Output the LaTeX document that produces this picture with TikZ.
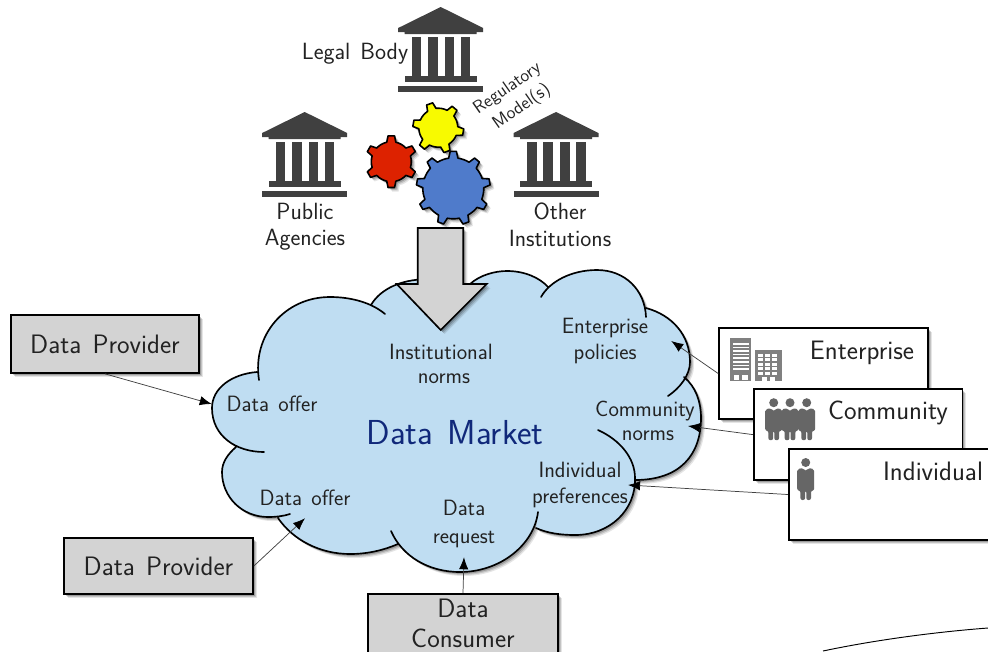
\documentclass[tikz,border=0pt]{standalone}
\usetikzlibrary{shadows,arrows.meta,calc}
\definecolor{cloudfill}{HTML}{BFDDF2}
\definecolor{boxgray}{HTML}{D3D3D3}
\definecolor{bankgray}{HTML}{404040}
\definecolor{icongray}{HTML}{666666}
\definecolor{bldgray}{HTML}{808080}
\definecolor{gearred}{HTML}{DD2200}
\definecolor{gearyellow}{HTML}{F8FA00}
\definecolor{gearblue}{HTML}{4F7BCB}
\definecolor{marketblue}{HTML}{10287A}
\definecolor{inktext}{HTML}{222222}
\newcommand{\lab}[1]{\sffamily\fontsize{#1}{19.5}\selectfont\spaceskip=.42em\relax}
\tikzset{
  softshadow/.style={
    general shadow={shadow xshift=3pt,shadow yshift=-3pt,fill=black,opacity=.10},
    general shadow={shadow xshift=2.2pt,shadow yshift=-2.2pt,fill=black,opacity=.15},
    general shadow={shadow xshift=1.4pt,shadow yshift=-1.4pt,fill=black,opacity=.2}},
  txt/.style={font=\lab{16.6},text=inktext,align=center,inner sep=0pt},
  bigtxt/.style={font=\lab{17.6},text=inktext,align=center,inner sep=0pt},
  boxtxt/.style={font=\lab{20},text=inktext,align=center,inner sep=0pt},
  graybox/.style={draw=black,line width=1.25pt,fill=boxgray,softshadow,boxtxt},
  whitebox/.style={draw=black,line width=1.25pt,fill=white,softshadow,inner sep=0pt},
  conn/.style={draw=black!75,line width=.55pt,-{Latex[length=9pt,width=7pt,black]}},
  gearline/.style={draw=black,line width=1.2pt,line join=round,softshadow},
  cloudline/.style={draw=black,line width=1.25pt,line cap=round}
}
% x y teeth outer inner rotation colour
\newcommand{\gearshape}[7]{%
  \pgfmathsetmacro{\gstep}{360/#3}%
  \fill[#7,gearline] ($(#1,#2)+(#6-.22*\gstep:#5)$)
    \foreach \gi in {1,...,#3}{
      -- ($(#1,#2)+(#6+\gi*\gstep-\gstep-.12*\gstep:#4)$)
      -- ($(#1,#2)+(#6+\gi*\gstep-\gstep+.12*\gstep:#4)$)
      -- ($(#1,#2)+(#6+\gi*\gstep-\gstep+.22*\gstep:#5)$)
      -- ($(#1,#2)+(#6+\gi*\gstep-\gstep+.36*\gstep:#5)$)
      -- ($(#1,#2)+(#6+\gi*\gstep-\gstep+.5*\gstep:#5)$)
      -- ($(#1,#2)+(#6+\gi*\gstep-\gstep+.64*\gstep:#5)$)
      -- ($(#1,#2)+(#6+\gi*\gstep-\gstep+.78*\gstep:#5)$)
    } -- cycle;}
% apex x, apex y
\newcommand{\bank}[2]{%
  \begin{scope}[shift={(#1,#2)},fill=bankgray]
    \fill (0,0) -- (42.5,21) -- (42.5,25) -- (36,25) -- (36,27) -- (-36,27) -- (-36,25) -- (-42.5,25) -- (-42.5,21) -- cycle;
    \foreach \cx in {-29,-12.7,4,20}{\fill (\cx,29.7) rectangle (\cx+9.7,69);}
    \fill (-36,69) rectangle (36,75);
    \fill (-42.5,79) rectangle (42.5,85);
  \end{scope}}
% head centre x, y
\newcommand{\person}[2]{%
  \begin{scope}[shift={(#1,#2)},fill=icongray]
    \fill (0,0) circle (4.5);
    \fill[rounded corners=1.5pt] (-8.5,6.5) -- (-2,5.5) -- (0,9) -- (2,5.5) -- (8.5,6.5) -- (8.5,28) -- (5.3,28) -- (5.3,37.5) -- (.6,37.5) -- (.6,28) -- (-.6,28) -- (-.6,37.5) -- (-5.3,37.5) -- (-5.3,28) -- (-8.5,28) -- cycle;
  \end{scope}}
\newcommand{\cloudoutline}[1]{%
  (264,452) .. controls (236,452) and (212,436) .. (212,408) .. controls (212,388) and (232,374) .. (257,372)
  #1 (259,380) .. controls (252,335) and (285,297) .. (330,297) .. controls (352,297) and (372,303) .. (385,314)
  #1 (371,305) .. controls (378,293) and (395,279) .. (430,279)
  #1 (470,284) .. controls (480,275) and (495,271) .. (507,271) .. controls (525,271) and (540,278) .. (548,287)
  #1 (541,297) .. controls (550,281) and (572,270) .. (597,270) .. controls (625,270) and (645,290) .. (646,317)
  #1 (646,308) .. controls (672,315) and (690,335) .. (690,362) .. controls (690,375) and (680,388) .. (668,396)
  #1 (684,377) .. controls (696,387) and (701,402) .. (701,418) .. controls (701,455) and (680,480) .. (635,480)
  #1 (598,430) .. controls (620,440) and (635,458) .. (635,478) .. controls (636,510) and (610,535) .. (575,535) .. controls (560,535) and (547,533) .. (536,528)
  #1 (538,512) .. controls (534,545) and (500,572) .. (460,572) .. controls (428,572) and (402,556) .. (391,531)
  #1 (398,544) .. controls (384,550) and (368,554) .. (350,554) .. controls (320,554) and (293,540) .. (278,518)
  #1 (290,514) .. controls (284,516) and (276,517) .. (268,517) .. controls (242,517) and (222,497) .. (222,472) .. controls (222,462) and (228,454) .. (236,447)}
\begin{document}
\begin{tikzpicture}[x=.75pt,y=-.75pt]
\useasboundingbox (0,0) rectangle (988,651);
\clip (0,0) rectangle (988,651);

% cloud
\fill[cloudfill,softshadow] \cloudoutline{--} -- cycle;
\draw[cloudline] \cloudoutline{};

% banks
\bank{440.7}{7}
\bank{304.7}{112}
\bank{556}{112}

% gears
\gearshape{438.3}{127.7}{6}{25.5}{19.5}{10}{gearyellow}
\gearshape{391.3}{161.7}{6}{26}{20}{90}{gearred}
\gearshape{453.3}{188.3}{9}{37}{30.5}{-90}{gearblue}

% big arrow
\fill[boxgray,draw=black,line width=1.25pt,line join=miter,softshadow]
  (417.7,228) -- (463.3,228) -- (463.3,284) -- (486.7,284) -- (440.7,330) -- (396.7,284) -- (417.7,284) -- cycle;

% labels
\node[bigtxt] (legal) at (355,54) {Legal Body};
\node[bigtxt] (pubA) at (305,211) {Public};
\node[bigtxt] (pubB) at (305,240) {Agencies};
\node[bigtxt] (othA) at (560,211) {Other};
\node[bigtxt] (othB) at (560,238) {Institutions};
\node[txt,font=\lab{13.4},rotate=35] (regA) at (507.5,89) {Regulatory};
\node[txt,font=\lab{13.4},rotate=35] (regB) at (521.7,107) {Model(s)};
\node[txt] (instA) at (441,352) {Institutional};
\node[txt] (instB) at (444,379) {norms};
\node[txt,minimum width=90pt] (offerA) at (272,404) {Data offer};
\node[txt,minimum height=30pt] (offerB) at (305,498) {Data offer};
\node[txt,minimum height=49.5pt] (request) at (464,524) {Data\\[1pt]request};
\node[txt,minimum width=99pt] (policies) at (605,341) {Enterprise\\[0pt]policies};
\node[txt] (commA) at (645,411) {Community};
\node[txt] (commB) at (648,436) {norms};
\coordinate (commtip) at (688,426);
\node[txt] (prefs) at (580,485) {Individual\\[0pt]preferences};
\node[txt,font=\lab{26},text=marketblue] (market) at (455,433) {Data Market};

% left and bottom boxes
\node[graybox,minimum width=141pt,minimum height=43.5pt] (provA) at (105,344) {Data Provider};
\node[graybox,minimum width=141.75pt,minimum height=42pt] (provB) at (158.5,566) {Data Provider};
\node[graybox,minimum width=142.5pt,minimum height=60pt] (consumer) at (463,634) {};
\node[boxtxt] (consA) at (463,608) {Data};
\node[boxtxt] (consB) at (463,638) {Consumer};

% right boxes
\node[whitebox,minimum width=156.75pt,minimum height=68.25pt] (ent) at (823.5,373.5) {};
\node[boxtxt] (entL) at (862,353) {Enterprise};
\node[whitebox,minimum width=156.5pt,minimum height=68pt] (com) at (858,434.6) {};
\node[boxtxt] (comL) at (888,413) {Community};
\node[whitebox,minimum width=156.5pt,minimum height=68.25pt] (ind) at (893,494.5) {};
\node[boxtxt] (indL) at (933,471) {Individual};

% icons
\fill[bldgray] (730,338.3) rectangle (751,380.7);
\foreach \ty in {343,346.6,350.2,353.8,357.4,361,364.6,368.2}{\fill[white] (732.5,\ty) rectangle (748.5,\ty+1.5);}
\fill[white] (733.5,375) rectangle (739,380); \fill[white] (742,375) rectangle (747.5,380);
\fill[bldgray] (755,350) rectangle (781.7,380.7);
\foreach \ty in {353.5,358,362.5,367,371.5}{\foreach \tx in {757.5,764.5,771.5}{\fill[white] (\tx,\ty) rectangle (\tx+5.5,\ty+3);}}
\fill[white] (762,377) rectangle (767,380.7); \fill[white] (770,377) rectangle (775,380.7);
\person{773.7}{402.7}
\person{790}{402.7}
\person{806.7}{402.7}
\person{805.7}{462.5}

% connectors
\draw[conn] (provA.south) -- (offerA.west);
\draw[conn] (provB.east) -- (offerB.south);
\draw[conn] (consumer.north) -- (request.south);
\draw[conn] (ent.west) -- (policies.east);
\draw[conn] (com.west) -- (commtip);
\draw[conn] (ind.west) -- (prefs.east);

% bottom right curve
\coordinate (curveA) at (823,651);
\coordinate (curveB) at (988,628);
\draw[black,line width=.7pt] (curveA) .. controls (875,640) and (935,632) .. (curveB);
\end{tikzpicture}
\end{document}
